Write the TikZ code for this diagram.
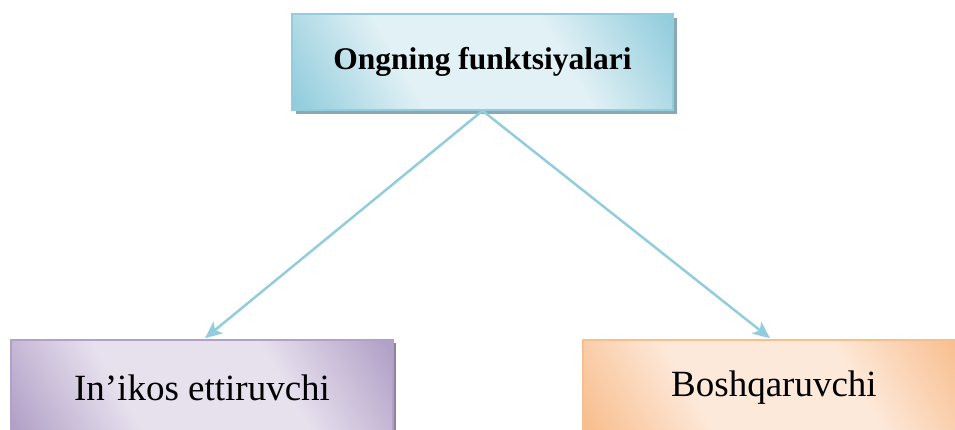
\documentclass[tikz,border=0pt]{standalone}
\usepackage{fontspec}
\setmainfont{Liberation Serif}
\usetikzlibrary{arrows.meta,shadows}
\definecolor{bdark}{HTML}{93CDDD}
\definecolor{blight}{HTML}{E2F1F5}
\definecolor{bshadow}{HTML}{88A9B3}
\definecolor{pdark}{HTML}{B2A1C7}
\definecolor{plight}{HTML}{E7E1EE}
\definecolor{pshadow}{HTML}{8F84A0}
\definecolor{odark}{HTML}{F8BE8E}
\definecolor{olight}{HTML}{FDE9DA}
\definecolor{oshadow}{HTML}{C89A74}
\definecolor{arrowc}{HTML}{93CDDD}
\pgfdeclarehorizontalshading{bluesh}{100bp}{color(0bp)=(bdark); color(17bp)=(bdark); color(37bp)=(blight); color(63bp)=(blight); color(83bp)=(bdark); color(100bp)=(bdark)}
\pgfdeclarehorizontalshading{purplesh}{100bp}{color(0bp)=(pdark); color(17bp)=(pdark); color(37bp)=(plight); color(63bp)=(plight); color(83bp)=(pdark); color(100bp)=(pdark)}
\pgfdeclarehorizontalshading{orangesh}{100bp}{color(0bp)=(odark); color(17bp)=(odark); color(37bp)=(olight); color(63bp)=(olight); color(83bp)=(odark); color(100bp)=(odark)}
\tikzset{
  box/.style={rectangle, minimum width=382pt, minimum height=96pt, line width=1.5pt, inner sep=0pt, shading angle=30},
  topbox/.style={box, draw=bdark, shading=bluesh, minimum width=381pt,
    drop shadow={shadow xshift=4pt, shadow yshift=-4pt, fill=bshadow, opacity=1},
    font=\fontsize{31.5}{36}\selectfont\bfseries},
  leftbox/.style={box, draw=pdark, shading=purplesh,
    drop shadow={shadow xshift=3pt, shadow yshift=-3pt, fill=pshadow, opacity=1},
    font=\fontsize{37}{42}\selectfont},
  rightbox/.style={box, draw=odark, shading=orangesh,
    drop shadow={shadow xshift=3pt, shadow yshift=-3pt, fill=oshadow, opacity=1},
    font=\fontsize{37}{42}\selectfont},
  conn/.style={draw=arrowc, line width=2.5pt, -{Stealth[length=17pt,width=15pt,inset=4pt]}}
}
\begin{document}
\begin{tikzpicture}[x=1pt,y=1pt]
\clip (0,0) rectangle (955,430);
\node[topbox] (top) at (482.5,368) {Ongning funktsiyalari};
\node[leftbox] (left) at (202,42) {In’ikos ettiruvchi};
\node[rightbox] (right) at (774,42) {Boshqaruvchi};
\draw[conn] (top.south) -- ([xshift=3pt,yshift=1pt]left.north);
\draw[conn] (top.south) -- ([xshift=-4pt,yshift=1pt]right.north);
\end{tikzpicture}
\end{document}
